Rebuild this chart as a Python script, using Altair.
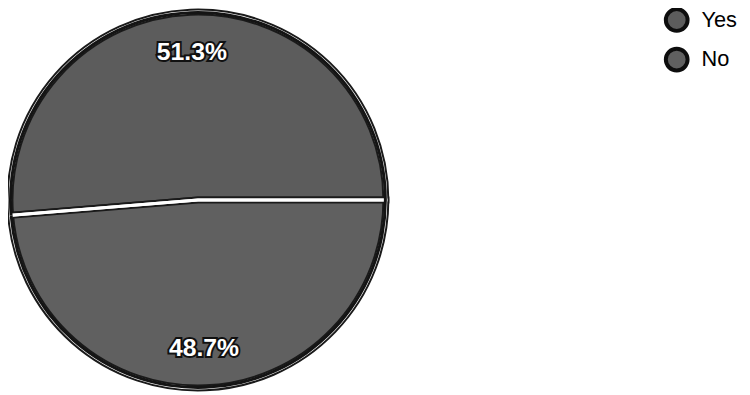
import altair as alt
import pandas as pd

answers = ["Yes", "No"]
shares = [51.3, 48.7]
labels = ["51.3%", "48.7%"]
fills = ["#5c5c5c", "#606060"]

df = pd.DataFrame({"answer": answers, "share": shares, "label": labels,
                   "order": [0, 1]})

START = 4.6307  # radians, where "Yes" begins (clockwise from 12 o'clock)
theta_scale = alt.Scale(range=[START, START + 6.283185])

CX, CY, R = 192, 192, 190

base = alt.Chart(df).encode(
    theta=alt.Theta("share:Q", stack=True, scale=theta_scale),
    order=alt.Order("order:Q"),
    x=alt.value(CX),
    y=alt.value(CY),
)

color = alt.Color(
    "answer:N",
    scale=alt.Scale(domain=answers, range=fills),
    sort=answers,
    legend=alt.Legend(
        title=None, orient="none", legendX=663, legendY=-3, padding=0,
        symbolType="circle", symbolSize=484, symbolStrokeColor="#0d0d0d",
        symbolStrokeWidth=4, symbolFillColor="#7e7e7e", labelFontSize=22,
        labelFont="Liberation Sans", labelColor="#000", labelOffset=12,
        rowPadding=2,
    ),
)

dark = base.mark_arc(outerRadius=R, stroke="#1a1a1a", strokeWidth=7).encode(color=color)
white = base.mark_arc(outerRadius=R, fillOpacity=0, stroke="#ffffff", strokeWidth=3).encode(
    color=alt.value("transparent"))
ring = base.mark_arc(innerRadius=R - 2, outerRadius=R + 1, color="#141414")

txt_stroke = base.mark_text(radius=150, font="Liberation Sans", fontWeight="bold",
                            fontSize=25, stroke="#111", strokeWidth=4,
                            color="#111").encode(text="label:N")
txt = base.mark_text(radius=150, font="Liberation Sans", fontWeight="bold",
                     fontSize=25, color="#ffffff").encode(text="label:N")

chart = alt.layer(dark, white, ring, txt_stroke, txt).properties(
    width=742, height=387, padding=0, background="#ffffff",
    autosize=alt.AutoSizeParams(type="none"),
).configure_view(stroke=None)

chart.save("out.html", embed_options={"renderer": "svg", "actions": False})
